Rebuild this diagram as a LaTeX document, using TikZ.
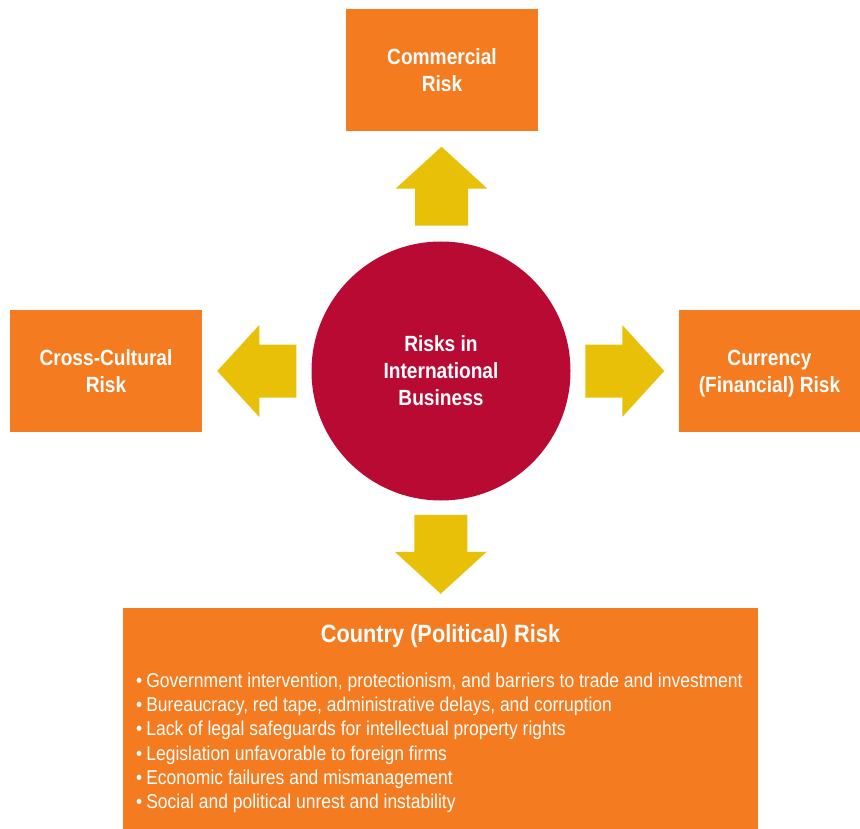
\documentclass[tikz,border=0pt]{standalone}
\usepackage{fontspec}
\setmainfont{Liberation Sans}[FakeStretch=0.875,BoldFeatures={FakeStretch=0.87}]
\usetikzlibrary{calc}
\definecolor{riskorange}{HTML}{F47B20}
\definecolor{riskred}{HTML}{B90A34}
\definecolor{riskgold}{HTML}{E8C007}

\begin{document}
\begin{tikzpicture}[x=1pt,y=-1pt,
    riskbox/.style={fill=riskorange,text=white,align=center,inner sep=0pt,
        font=\bfseries\fontsize{22}{27}\selectfont,text height=43pt,text depth=0pt},
    hub/.style={circle,fill=riskred,text=white,align=center,inner sep=0pt,
        minimum size=259pt,font=\bfseries\fontsize{22}{27}\selectfont},
    itemtext/.style={anchor=base west,inner sep=0pt,text=white,
        font=\fontsize{20}{24}\selectfont},
    fatarrow/.pic={\fill[riskgold] (-39.5,-26.5) -- (-2.5,-26.5) -- (-2.5,-46)
        -- (39.5,0) -- (-2.5,46) -- (-2.5,26.5) -- (-39.5,26.5) -- cycle;}]
    \useasboundingbox (0,0) rectangle (860,829);
    % centre and the four kinds of risk
    \node[hub] (core) at (441,371) {Risks in\\International\\Business};
    \node[riskbox,minimum width=192pt,minimum height=122pt] (commercial) at (442,70) {Commercial\\Risk};
    \node[riskbox,minimum width=192pt,minimum height=122pt] (cultural) at (106,371) {Cross-Cultural\\Risk};
    \node[riskbox,minimum width=181pt,minimum height=122pt] (currency) at (769.5,371) {Currency\\(Financial) Risk};
    \node[fill=riskorange,inner sep=0pt,minimum width=635pt,minimum height=221pt] (country) at (440.5,718.5) {};
    \node[anchor=base,inner sep=0pt,text=white,font=\bfseries\fontsize{25}{30}\selectfont]
        (countrytitle) at ($(country.north)+(0,35)$) {Country (Political) Risk};
    \foreach \item [count=\i] in {{Government intervention, protectionism, and barriers to trade and investment},
        {Bureaucracy, red tape, administrative delays, and corruption},
        {Lack of legal safeguards for intellectual property rights},
        {Legislation unfavorable to foreign firms},
        {Economic failures and mismanagement},
        {Social and political unrest and instability}}
        \node[itemtext] (item\i) at (136,{663+24.3*\i}) {•\hspace{4pt}\item};
    % arrows from the centre outwards
    \pic[rotate=90] at ($(core.north)!0.5!(commercial.south)$) {fatarrow};
    \pic[rotate=180] at ($(core.west)!0.5!(cultural.east)$) {fatarrow};
    \pic at ($(core.east)!0.5!(currency.west)$) {fatarrow};
    \pic[rotate=-90] at ($(core.south)!0.5!(country.north)$) {fatarrow};
\end{tikzpicture}
\end{document}
